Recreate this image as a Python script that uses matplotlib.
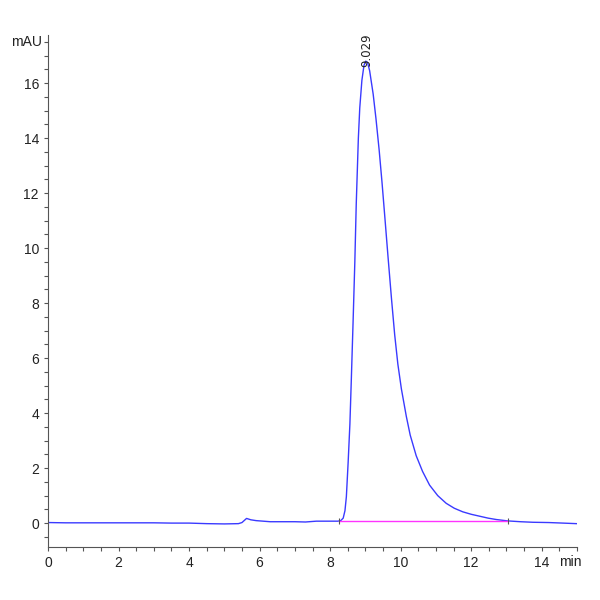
import matplotlib
matplotlib.use("Agg")
import matplotlib.pyplot as plt
from matplotlib.ticker import MultipleLocator
from matplotlib import font_manager

# ---- data ----
time_min = [0.0, 0.5, 1.0, 1.5, 2.0, 2.5, 3.0, 3.5, 4.0, 4.5, 5.0, 5.4, 5.5,
            5.63, 5.75, 5.9, 6.3, 7.0, 7.3, 7.61, 8.0, 8.22, 8.3, 8.37, 8.42,
            8.46, 8.51, 8.56, 8.60, 8.65, 8.70, 8.74, 8.80, 8.84, 8.90, 8.96,
            9.01, 9.06, 9.12, 9.22, 9.30, 9.39, 9.47, 9.55, 9.64, 9.74, 9.83,
            9.92, 10.02, 10.16, 10.27, 10.44, 10.62, 10.82, 11.05, 11.29, 11.52,
            11.76, 12.0, 12.24, 12.48, 12.71, 13.03, 13.4, 13.75, 14.2, 14.6,
            14.98]
absorbance = [0.02, 0.01, 0.01, 0.01, 0.01, 0.01, 0.01, 0.0, 0.0, -0.02, -0.03,
              -0.02, 0.02, 0.17, 0.12, 0.09, 0.05, 0.05, 0.04, 0.07, 0.07, 0.07,
              0.09, 0.18, 0.45, 0.96, 2.2, 3.6, 5.2, 7.3, 9.5, 11.6, 14.0,
              15.1, 16.1, 16.65, 16.8, 16.75, 16.45, 15.6, 14.7, 13.56, 12.4,
              11.14, 9.7, 8.15, 6.85, 5.78, 4.88, 3.88, 3.2, 2.45, 1.88, 1.38, 1.0,
              0.72, 0.54, 0.41, 0.32, 0.25, 0.18, 0.13, 0.08, 0.05, 0.03, 0.02,
              0.0, -0.02]

baseline_t = [8.25, 13.05]
baseline_y = [0.07, 0.07]

peak_rt = 9.029
peak_height = 16.8
peak_label = "9.029"

x_ticks = [0, 2, 4, 6, 8, 10, 12, 14]
y_ticks = [0, 2, 4, 6, 8, 10, 12, 14, 16]

names = {f.name for f in font_manager.fontManager.ttflist}
tick_font = "Liberation Sans Narrow" if "Liberation Sans Narrow" in names else "Liberation Sans"

fig = plt.figure(figsize=(6, 6), dpi=100)
ax = fig.add_axes([0.08, 0.0883, 0.8817, 0.8534])

ax.plot(time_min, absorbance, color="#3a3aff", lw=1.0)
ax.plot(baseline_t, baseline_y, color="#ff33ff", lw=1.0)
ax.plot(baseline_t, baseline_y, ls="none", marker="|", ms=5, color="#555555", mew=0.8)

ax.text(peak_rt, peak_height - 0.2, peak_label, rotation=90, ha="center", va="bottom",
        fontsize=8.5, color="#222222", family="DejaVu Sans")

ax.set_xlim(0, 15)
ax.set_ylim(-0.87, 17.75)
ax.set_xticks(x_ticks)
ax.set_yticks(y_ticks)
ax.xaxis.set_minor_locator(MultipleLocator(0.5))
ax.yaxis.set_minor_locator(MultipleLocator(0.5))

for s in ["top", "right"]:
    ax.spines[s].set_visible(False)
for s in ["left", "bottom"]:
    ax.spines[s].set_color("#555555")
    ax.spines[s].set_linewidth(0.8)

ax.tick_params(which="both", direction="out", color="#555555", width=0.8,
               labelsize=10, labelcolor="#222222")
ax.tick_params(which="major", length=3)
ax.tick_params(which="minor", length=3)
for lab in ax.get_xticklabels() + ax.get_yticklabels():
    lab.set_family(tick_font)

ax.text(-0.012, 17.5, "mAU", transform=ax.get_yaxis_transform(), ha="right", va="center",
        fontsize=10, color="#222222", family=tick_font)
ax.text(14.8, -0.015, "min", transform=ax.get_xaxis_transform(), ha="center", va="top",
        fontsize=10, color="#222222", family=tick_font)

fig.savefig("out.png", dpi=100, facecolor="white")
